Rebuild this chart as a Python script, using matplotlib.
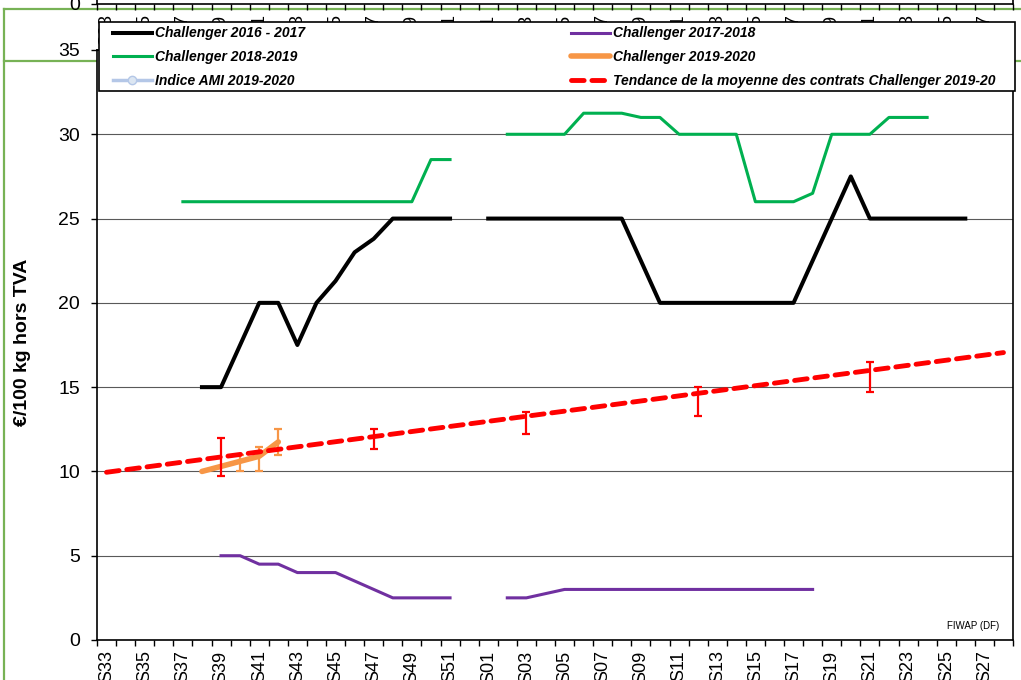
import numpy as np
import matplotlib
matplotlib.use("Agg")
import matplotlib.pyplot as plt
from matplotlib.lines import Line2D
from matplotlib.patches import Rectangle

plt.rcParams['font.family'] = ['Liberation Sans', 'DejaVu Sans']

nan = np.nan

# campaign weeks S33 -> S28
weeks = ["S33", "S34", "S35", "S36", "S37", "S38", "S39", "S40", "S41", "S42",
         "S43", "S44", "S45", "S46", "S47", "S48", "S49", "S50", "S51", "S52",
         "S01", "S02", "S03", "S04", "S05", "S06", "S07", "S08", "S09", "S10",
         "S11", "S12", "S13", "S14", "S15", "S16", "S17", "S18", "S19", "S20",
         "S21", "S22", "S23", "S24", "S25", "S26", "S27", "S28"]

ch_2016_17 = [nan, nan, nan, nan, nan, 15, 15, 17.5, 20, 20,
              17.5, 20, 21.3, 23, 23.8, 25, 25, 25, 25, nan,
              25, 25, 25, 25, 25, 25, 25, 25, 22.5, 20,
              20, 20, 20, 20, 20, 20, 20, 22.5, 25, 27.5,
              25, 25, 25, 25, 25, 25, nan, nan]

ch_2017_18 = [nan, nan, nan, nan, nan, nan, 5, 5, 4.5, 4.5,
              4, 4, 4, 3.5, 3, 2.5, 2.5, 2.5, 2.5, nan,
              nan, 2.5, 2.5, 2.75, 3, 3, 3, 3, 3, 3,
              3, 3, 3, 3, 3, 3, 3, 3, nan, nan,
              nan, nan, nan, nan, nan, nan, nan, nan]

ch_2018_19 = [nan, nan, nan, nan, 26, 26, 26, 26, 26, 26,
              26, 26, 26, 26, 26, 26, 26, 28.5, 28.5, nan,
              nan, 30, 30, 30, 30, 31.25, 31.25, 31.25, 31, 31,
              30, 30, 30, 30, 26, 26, 26, 26.5, 30, 30,
              30, 31, 31, 31, nan, nan, nan, nan]

ch_2019_20_weeks = ["S38", "S39", "S40", "S41", "S42"]
ch_2019_20 = [10.0, 10.3, 10.6, 10.9, 11.75]
ch_2019_20_err_weeks = ["S40", "S41", "S42"]
ch_2019_20_low = [10.0, 10.0, 11.0]
ch_2019_20_high = [11.0, 11.45, 12.5]

trend_weeks = ["S33", "S28"]
trend_vals = [9.95, 17.05]
trend_err_weeks = ["S39", "S47", "S03", "S12", "S21"]
trend_low = [9.75, 11.35, 12.2, 13.3, 14.7]
trend_high = [12.0, 12.5, 13.5, 15.0, 16.5]

labels = ["Challenger 2016 - 2017", "Challenger 2017-2018",
          "Challenger 2018-2019", "Challenger 2019-2020",
          "Indice AMI 2019-2020",
          "Tendance de la moyenne des contrats Challenger 2019-20"]

W, H = 1021, 680
fig = plt.figure(figsize=(W / 100, H / 100), dpi=100)

# spreadsheet cell borders behind the chart
green = '#77B255'
for xs, ys in [([4, 4], [9, H]), ([4, W], [9, 9]), ([4, W], [61, 61])]:
    fig.add_artist(Line2D([v / W for v in xs], [1 - v / H for v in ys],
                          transform=fig.transFigure, color=green, lw=1.6, zorder=-1))

x = np.arange(len(weeks))
idx = {w: i for i, w in enumerate(weeks)}
bounds = np.arange(len(weeks) + 1) - 0.5
show = [w if i % 2 == 0 else "" for i, w in enumerate(weeks)]


def style_axis(a):
    a.set_xlim(-0.5, len(weeks) - 0.5)
    a.set_ylim(0, 35)
    a.set_yticks(range(0, 36, 5))
    a.set_xticks(bounds)
    a.set_xticklabels([])
    a.set_xticks(x, minor=True)
    a.set_xticklabels(show, minor=True, rotation=90, fontsize=13)
    a.tick_params(axis='x', which='major', length=4.3, width=1, direction='out')
    a.tick_params(axis='x', which='minor', length=0, pad=7.5)
    a.tick_params(axis='y', length=4.3, width=1, pad=8, labelsize=14)
    for s in a.spines.values():
        s.set_linewidth(1.2)


# the chart sitting above, only its bottom edge shows
ax0 = fig.add_axes([97 / W, 1 - 4 / H, 916 / W, 0.5], zorder=0)
ax0.set_facecolor('none')
style_axis(ax0)

ax = fig.add_axes([97 / W, 1 - 640 / H, 916 / W, 590 / H], zorder=1)
style_axis(ax)
ax.yaxis.grid(True, color='#595959', lw=0.8)
ax.set_axisbelow(True)

h1, = ax.plot(x, ch_2016_17, color='black', lw=2.9)
h2, = ax.plot(x, ch_2017_18, color='#7030A0', lw=2.2)
h3, = ax.plot(x, ch_2018_19, color='#00B050', lw=2.2)

ox = [idx[w] for w in ch_2019_20_weeks]
h4, = ax.plot(ox, ch_2019_20, color='#F79646', lw=4, solid_capstyle='round')
oex = [idx[w] for w in ch_2019_20_err_weeks]
ax.errorbar(oex, [(a + b) / 2 for a, b in zip(ch_2019_20_low, ch_2019_20_high)],
            yerr=[(b - a) / 2 for a, b in zip(ch_2019_20_low, ch_2019_20_high)],
            fmt='none', ecolor='#F79646', elinewidth=1.6, capsize=3, capthick=1.6)

h5, = ax.plot([], [], color='#B4C7E7', lw=2.5, marker='o', ms=6,
              mfc='#DCE6F2', mec='#B4C7E7')

tx = [idx[w] for w in trend_weeks]
h6, = ax.plot(tx, trend_vals, color='red', lw=3.5, dashes=(2.6, 1.6),
              dash_capstyle='round')
tex = [idx[w] for w in trend_err_weeks]
ax.errorbar(tex, [(a + b) / 2 for a, b in zip(trend_low, trend_high)],
            yerr=[(b - a) / 2 for a, b in zip(trend_low, trend_high)],
            fmt='none', ecolor='red', elinewidth=1.6, capsize=3, capthick=1.6)

fig.text(23 / W, 1 - 342 / H, "€/100 kg hors TVA", rotation=90, fontsize=14,
         fontweight='bold', ha='center', va='center')
ax.text(0.985, 0.024, "FIWAP (DF)", transform=ax.transAxes, ha='right',
        va='center', fontsize=7)

# legend box (white, covers the top of the plot area)
ax.add_patch(Rectangle((99 / W, 1 - 91 / H), 916 / W, 69 / H,
                       transform=fig.transFigure, facecolor='white',
                       edgecolor='black', lw=1.2, clip_on=False, zorder=4))

handles = [h1, h3, h5, h2, h4, h6]
leg_labels = [labels[0], labels[2], labels[4], labels[1], labels[3], labels[5]]
leg = ax.legend(handles, leg_labels, ncol=2, loc='upper left',
                bbox_to_anchor=(113 / W, 1 - 26.5 / H),
                bbox_transform=fig.transFigure,
                prop=dict(weight='bold', style='italic', size=10),
                frameon=False, borderpad=0, borderaxespad=0,
                labelspacing=0.7, handlelength=2.8, handletextpad=0.2,
                columnspacing=19.2)
leg.set_zorder(5)

fig.savefig("out.png", dpi=100)
